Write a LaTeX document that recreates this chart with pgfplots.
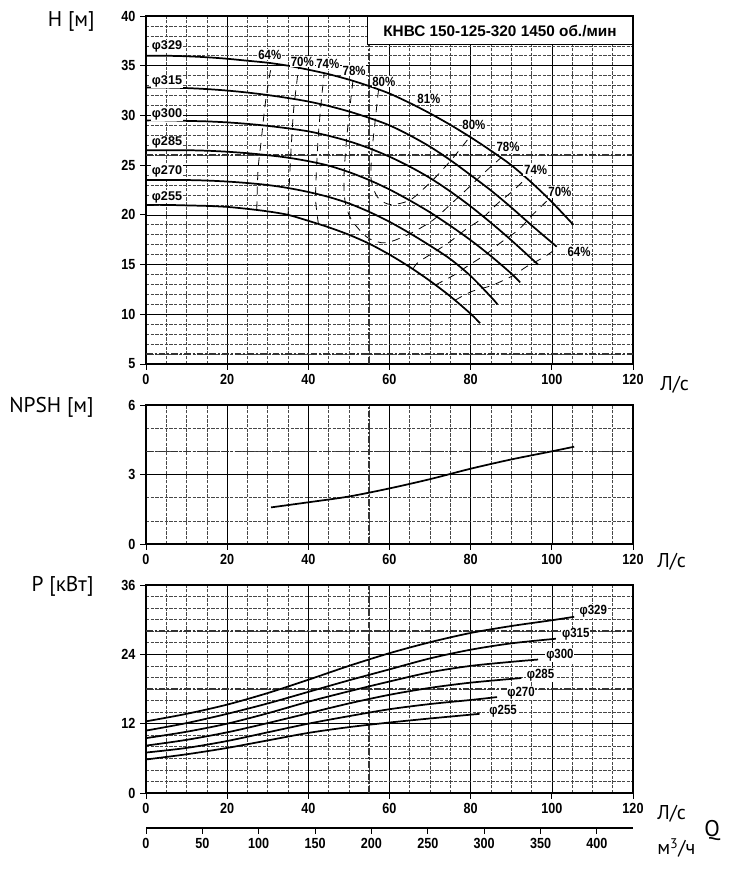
\documentclass[border=0pt]{standalone}
\usepackage{pgfplots}
\pgfplotsset{compat=1.18}
\usepackage{fontspec}
\setmainfont{Liberation Sans}
\newfontfamily\cond[FakeStretch=0.86]{Liberation Sans}
\newfontfamily\labfont{PT Sans}
\tikzset{
  lab/.style={font=\bfseries\fontsize{9.5}{11}\selectfont, fill=white, inner sep=0.6pt},
  pl/.style={font=\cond\bfseries\fontsize{10}{12}\selectfont, fill=white, inner sep=0.6pt},
  thk/.style={black!80, line width=1.1pt, dash pattern=on 5pt off 1.5pt on 1.5pt off 1.5pt},
}
\pgfplotsset{
  base/.style={
    scale only axis, width=365.25pt, xmin=0, xmax=120,
    xtick={0,20,...,120}, minor x tick num=3,
    grid=both, tick align=outside, major tick length=4.5pt, minor tick length=0pt,
    xtick pos=bottom, ytick pos=left,
    axis line style={line width=0.9pt},
    major tick style={line width=0.7pt, black},
    major grid style={black, line width=0.5pt},
    minor grid style={black!72, line width=0.45pt, dash pattern=on 2.5pt off 1pt},
    tick label style={font=\cond\bfseries\fontsize{11}{13}\selectfont},
    /pgf/number format/assume math mode=true,
    anchor=south west,
  },
  hc/.style={black, line width=1.3pt, smooth, tension=0.5},
  ec/.style={black, line width=0.6pt, smooth, tension=0.5, dash pattern=on 6pt off 5pt},
}
\begin{document}
\begin{tikzpicture}
\path[use as bounding box] (0,0) rectangle (552.75pt,662.25pt);

% ---------------- H plot ----------------
\begin{axis}[base, at={(109.5pt,389.25pt)}, height=261pt,
  ymin=5, ymax=40, ytick={5,10,...,40}, minor y tick num=4]
\draw[thk] (axis cs:55,5) -- (axis cs:55,40);
\draw[thk] (axis cs:0,6) -- (axis cs:120,6);
\draw[thk] (axis cs:0,26) -- (axis cs:120,26);
% head curves
\addplot[hc] coordinates {(0,36.0)(5,36.0)(10,35.95)(15,35.85)(20,35.7)(25,35.5)(30,35.3)(35,35.0)(40,34.6)(45,34.15)(50,33.6)(55,32.95)(60,32.2)(65,31.25)(70,30.2)(75,29.05)(80,27.8)(85,26.45)(90,25.0)(95,23.25)(100,21.3)(105.3,19.0)};
\addplot[hc] coordinates {(0,32.8)(5,32.8)(10,32.75)(15,32.65)(20,32.5)(25,32.3)(30,32.05)(35,31.75)(40,31.4)(45,30.95)(50,30.4)(55,29.75)(60,29.0)(65,28.0)(70,26.85)(75,25.5)(80,24.0)(85,22.45)(90,20.75)(95,18.95)(101.2,16.8)};
\addplot[hc] coordinates {(0,29.5)(5,29.5)(10,29.45)(15,29.4)(20,29.3)(25,29.15)(30,28.95)(35,28.7)(40,28.4)(45,27.95)(50,27.4)(55,26.7)(60,25.85)(65,24.85)(70,23.7)(75,22.35)(80,20.85)(85,19.2)(90,17.45)(96.6,15.0)};
\addplot[hc] coordinates {(0,26.5)(5,26.5)(10,26.5)(15,26.45)(20,26.35)(25,26.2)(30,26.0)(35,25.75)(40,25.4)(45,24.95)(50,24.3)(55,23.5)(60,22.55)(65,21.45)(70,20.25)(75,18.9)(80,17.45)(85,15.85)(90,14.1)(92.2,13.2)};
\addplot[hc] coordinates {(0,23.5)(5,23.5)(10,23.5)(15,23.45)(20,23.35)(25,23.2)(30,23.0)(35,22.7)(40,22.3)(45,21.8)(50,21.15)(55,20.3)(60,19.3)(65,18.15)(70,16.9)(75,15.55)(80,13.85)(85,11.75)(86.6,11.0)};
\addplot[hc] coordinates {(0,21.0)(5,21.0)(10,20.95)(15,20.9)(20,20.8)(25,20.6)(30,20.35)(35,20.0)(40,19.4)(45,18.75)(50,18.0)(55,17.1)(60,16.0)(65,14.75)(70,13.35)(75,11.8)(80,10.05)(82.3,9.1)};
% efficiency curves
\addplot[ec] coordinates {(27.3,20.55)(27.6,24.5)(28.4,27.5)(29.3,30.9)(30.4,33.9)(31.1,35.2)};
\addplot[ec] coordinates {(35.0,19.95)(35.3,23)(35.6,25.5)(36.3,30.2)(37.0,32.8)(37.6,34.8)};
\addplot[ec] coordinates {(42.5,19.05)(41.8,21.5)(42.0,24.5)(42.5,28.2)(43.3,31.9)(43.9,34.2)};
\addplot[ec] coordinates {(51.0,33.5)(50.3,31)(49.4,27.5)(48.8,24.0)(49.0,21.5)(50.5,19.6)(54.3,17.8)(58.0,17.2)(61.0,17.4)(66.0,18.3)(70.8,19.5)(74.9,21.0)(79.4,22.7)(83.5,24.3)(87.5,25.75)};
\addplot[ec] coordinates {(57.3,32.6)(56.4,29.2)(55.6,26.0)(55.5,23.5)(57.0,21.8)(59.5,21.1)(62.0,21.1)(65.5,21.6)(70.4,23.4)(74.1,25.0)(76.6,26.2)(79.8,27.85)};
\addplot[ec] coordinates {(65.8,14.55)(67,15.2)(71.2,16.3)(74.9,17.3)(79,18.6)(82.7,19.6)(86.8,21.2)(90.1,22.3)(93.6,23.65)};
\addplot[ec] coordinates {(71.3,12.95)(75.7,13.9)(79.8,15.0)(84,16.1)(87.7,17.3)(91.8,18.5)(95,19.9)(99.3,21.6)};
\addplot[ec] coordinates {(76.1,11.4)(80.3,12.3)(85.2,12.9)(90.5,13.9)(93.8,14.8)(98.3,15.8)(101.0,16.6)};
% labels
\node[lab, anchor=west] at (axis cs:1.2,36.9) {φ329};
\node[lab, anchor=west] at (axis cs:1.2,33.4) {φ315};
\node[lab, anchor=west] at (axis cs:1.2,30.1) {φ300};
\node[lab, anchor=west] at (axis cs:1.2,27.25) {φ285};
\node[lab, anchor=west] at (axis cs:1.2,24.4) {φ270};
\node[lab, anchor=west] at (axis cs:1.2,21.8) {φ255};
\node[pl] at (axis cs:30.5,36.1) {64\%};
\node[pl] at (axis cs:38.5,35.4) {70\%};
\node[pl] at (axis cs:44.8,35.2) {74\%};
\node[pl] at (axis cs:51.3,34.5) {78\%};
\node[pl] at (axis cs:58.6,33.4) {80\%};
\node[pl] at (axis cs:69.7,31.7) {81\%};
\node[pl] at (axis cs:80.8,29.0) {80\%};
\node[pl] at (axis cs:89.2,26.8) {78\%};
\node[pl] at (axis cs:96.0,24.5) {74\%};
\node[pl] at (axis cs:102.0,22.3) {70\%};
\node[pl] at (axis cs:106.7,16.3) {64\%};
\node[draw, line width=0.8pt, fill=white, anchor=north east, minimum width=198.75pt,
  minimum height=21.2pt, inner sep=0pt, font=\bfseries\fontsize{11.5}{13}\selectfont]
  at (rel axis cs:1,1) {КНВС 150-125-320 1450 об./мин};
\end{axis}

% ---------------- NPSH plot ----------------
\begin{axis}[base, at={(109.5pt,254.25pt)}, height=104.25pt,
  ymin=0, ymax=6, ytick={0,3,6}, minor y tick num=2]
\draw[thk] (axis cs:55,0) -- (axis cs:55,6);
\draw[thk] (axis cs:0,4) -- (axis cs:120,4);
\addplot[hc] coordinates {(30.8,1.58)(40,1.8)(50,2.05)(60,2.4)(70,2.8)(80,3.25)(90,3.65)(100,4.0)(105.5,4.2)};
\end{axis}

% ---------------- Power plot ----------------
\begin{axis}[base, at={(109.5pt,67.5pt)}, height=156pt,
  ymin=0, ymax=36, ytick={0,12,24,36}, minor y tick num=5]
\draw[thk] (axis cs:55,0) -- (axis cs:55,36);
\draw[thk] (axis cs:0,18) -- (axis cs:120,18);
\draw[thk] (axis cs:0,28) -- (axis cs:120,28);
\addplot[hc] coordinates {(0,12.4)(10,13.7)(20,15.3)(30,17.3)(40,19.6)(50,22.0)(60,24.2)(70,26.1)(80,27.7)(90,28.9)(100,29.9)(105.5,30.5)};
\addplot[hc] coordinates {(0,10.8)(10,12.1)(20,13.7)(30,15.5)(40,17.5)(50,19.5)(60,21.4)(70,23.3)(80,24.8)(90,25.9)(101,26.7)};
\addplot[hc] coordinates {(0,9.5)(10,10.6)(20,12.0)(30,13.8)(40,15.8)(50,17.6)(60,19.3)(70,20.9)(80,22.0)(90,22.7)(96.6,23.1)};
\addplot[hc] coordinates {(0,8.2)(10,9.2)(20,10.5)(30,12.1)(40,13.8)(50,15.5)(60,17.0)(70,18.2)(80,19.1)(92.5,19.9)};
\addplot[hc] coordinates {(0,7.0)(10,7.8)(20,9.0)(30,10.5)(40,12.0)(50,13.3)(60,14.5)(70,15.4)(80,16.1)(86.5,16.6)};
\addplot[hc] coordinates {(0,5.8)(10,6.7)(20,7.8)(30,9.1)(40,10.4)(50,11.4)(60,12.2)(70,12.9)(82.2,13.7)};
\node[pl] at (axis cs:110.2,31.5) {φ329};
\node[pl] at (axis cs:105.9,27.4) {φ315};
\node[pl] at (axis cs:102.0,23.9) {φ300};
\node[pl] at (axis cs:97.2,20.4) {φ285};
\node[pl] at (axis cs:92.4,17.3) {φ270};
\node[pl] at (axis cs:88.0,14.1) {φ255};
\end{axis}

% ---------------- m3/h scale ----------------
\begin{axis}[scale only axis, width=365.25pt, height=1pt, at={(109.5pt,41.25pt)}, anchor=south west,
  xmin=0, xmax=432, ymin=0, ymax=1, axis x line*=bottom, axis y line=none,
  xtick={0,50,...,400}, tick align=outside, major tick length=4.5pt,
  axis line style={line width=0.9pt}, major tick style={line width=0.7pt, black},
  tick label style={font=\cond\bfseries\fontsize{11}{13}\selectfont},
  /pgf/number format/assume math mode=true]
\addplot[draw=none] coordinates {(0,0)};
\end{axis}

% ---------------- axis titles ----------------
\node[font=\labfont\fontsize{16}{18}\selectfont, anchor=base east, inner sep=0pt] at (71.25pt,642.2pt) {H [м]};
\node[font=\labfont\fontsize{16}{18}\selectfont, anchor=base east, inner sep=0pt] at (70.5pt,352.5pt) {NPSH [м]};
\node[font=\labfont\fontsize{16}{18}\selectfont, anchor=base east, inner sep=0pt] at (70.5pt,218.6pt) {P [кВт]};
\node[font=\labfont\fontsize{15}{17}\selectfont, anchor=base west, inner sep=0pt] at (495pt,369pt) {Л/с};
\node[font=\labfont\fontsize{15}{17}\selectfont, anchor=base west, inner sep=0pt] at (492.75pt,236.25pt) {Л/с};
\node[font=\labfont\fontsize{15}{17}\selectfont, anchor=base west, inner sep=0pt] at (492.75pt,47.25pt) {Л/с};
\node[font=\labfont\fontsize{15}{17}\selectfont, anchor=base west, inner sep=0pt] at (492.75pt,21pt) {м\textsuperscript{3}/ч};
\node[font=\labfont\fontsize{17}{19}\selectfont, anchor=base west, inner sep=0pt] at (528pt,34.5pt) {Q};
\end{tikzpicture}
\end{document}
